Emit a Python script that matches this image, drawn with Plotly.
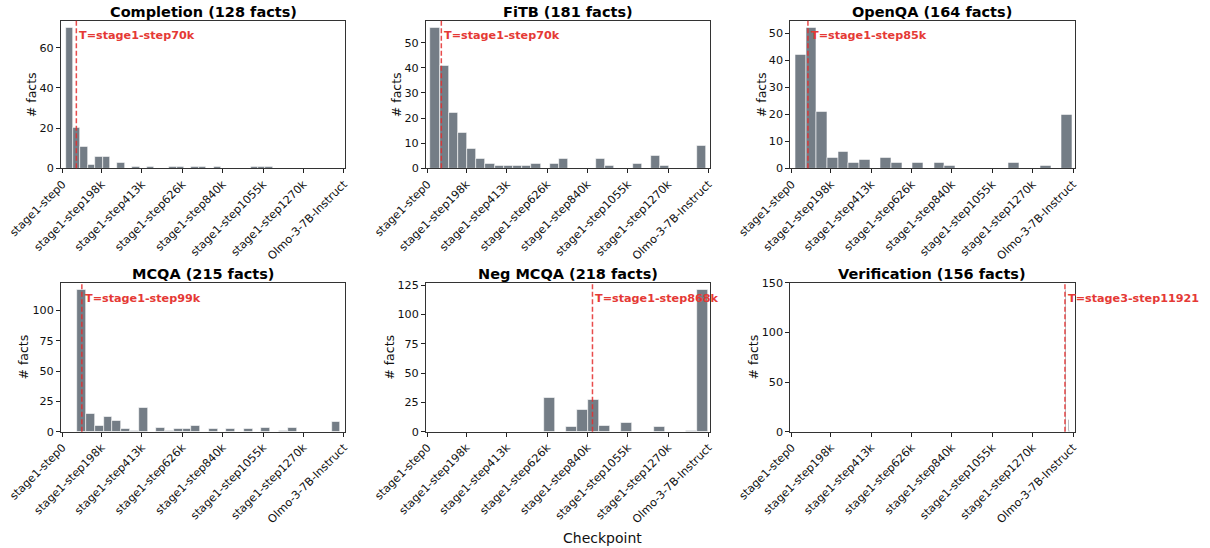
import plotly.graph_objects as go

W, H = 1210, 548

# ---- data ----
tick_idx = [0, 29, 59, 89, 119, 149, 179, 209]
tick_labels = ["stage1-step0", "stage1-step198k", "stage1-step413k", "stage1-step626k",
               "stage1-step840k", "stage1-step1055k", "stage1-step1270k", "Olmo-3-7B-Instruct"]

titles = ["Completion (128 facts)", "FiTB (181 facts)", "OpenQA (164 facts)",
          "MCQA (215 facts)", "Neg MCQA (218 facts)", "Verification (156 facts)"]

threshold_idx = [10.3, 10.3, 12.0, 14.4, 122.7, 203.0]
threshold_labels = ["T=stage1-step70k", "T=stage1-step70k", "T=stage1-step85k",
                    "T=stage1-step99k", "T=stage1-step868k", "T=stage3-step11921"]

# histogram bins: start index and bin width (checkpoint-index units)
bin_start = [2.25, 2.1, 2.6, 11.1, 87.0, 203.2]
bin_width = [5.5, 6.84, 7.92, 6.51, 8.12, 0.8]

counts_completion = [70, 20, 11, 2, 6, 6, 0, 3, 0, 1, 0, 1, 0, 0, 1, 1, 0, 1, 1, 0,
                     1, 0, 0, 0, 0, 1, 1, 1]
counts_fitb = [56, 41, 22, 14, 8, 4, 2, 1, 1, 1, 1, 2, 0, 2, 4, 0, 0, 0, 4, 1,
               0, 0, 2, 0, 5, 1, 0, 0, 0, 9]
counts_openqa = [42, 52, 21, 4, 6, 2, 3, 0, 4, 2, 0, 2, 0, 2, 1, 0, 0, 0, 0, 0,
                 2, 0, 0, 1, 0, 20]
counts_mcqa = [117, 15, 5, 12, 9, 2, 1, 20, 0, 3, 1, 2, 2, 5, 0, 2, 0, 2, 0, 2,
               0, 3, 0, 1, 3, 0, 0, 0, 0, 8]
counts_negmcqa = [29, 0, 4, 19, 27, 5, 0, 8, 0, 0, 4, 0, 0, 1, 121]
counts_verification = [143, 0, 0, 12, 1]

all_counts = [counts_completion, counts_fitb, counts_openqa,
              counts_mcqa, counts_negmcqa, counts_verification]

ytick_step = [20, 10, 10, 25, 25, 50]
ymax = [73.5, 58.8, 54.6, 122.85, 127.05, 150.15]

# ---- layout geometry (pixels) ----
cols_px = [(61, 345.3), (426, 710), (790.3, 1074.5)]
rows_px = [(20.7, 168.3), (282.8, 431.7)]
ylab_x = [31.7, 396.7, 761.7, 23.3, 389.5, 753.3]

FONT = "DejaVu Sans"
BAR = "rgb(116,125,134)"
RED_LINE = "rgba(228,45,45,0.85)"
RED_TXT = "#e53935"

fig = go.Figure()
annotations = []
shapes = []

for i in range(6):
    r, c = divmod(i, 3)
    ax = "" if i == 0 else str(i + 1)
    counts = all_counts[i]
    xs = [bin_start[i] + (k + 0.5) * bin_width[i] for k in range(len(counts))]
    fig.add_trace(go.Bar(
        x=xs, y=counts, width=bin_width[i],
        marker=dict(color=BAR, line=dict(color="white", width=0.6)),
        xaxis="x" + ax, yaxis="y" + ax, showlegend=False, hoverinfo="skip"))

    x0, x1 = cols_px[c]
    top, bot = rows_px[r]
    xdom = [x0 / W, x1 / W]
    ydom = [1 - bot / H, 1 - top / H]
    ticks_y = list(range(0, int(ymax[i]) + 1, ytick_step[i]))
    fig.update_layout(**{
        "xaxis" + ax: dict(domain=xdom, anchor="y" + ax, range=[-1.1, 210.1],
                           automargin=False,
                           tickmode="array", tickvals=tick_idx, ticktext=tick_labels,
                           tickangle=-45, ticks="outside", ticklen=4, tickwidth=1,
                           tickcolor="#222", showline=True, mirror=True,
                           linecolor="#333", linewidth=1, showgrid=False,
                           zeroline=False, tickfont=dict(family=FONT, size=11.2, color="#111")),
        "yaxis" + ax: dict(domain=ydom, anchor="x" + ax, range=[0, ymax[i]],
                           automargin=False,
                           tickmode="array", tickvals=ticks_y,
                           ticks="outside", ticklen=4, tickwidth=1, tickcolor="#222",
                           showline=True, mirror=True, linecolor="#333", linewidth=1,
                           showgrid=False, zeroline=False,
                           tickfont=dict(family=FONT, size=11.2, color="#111")),
    })

    # title
    annotations.append(dict(text="<b>" + titles[i] + "</b>", xref="paper", yref="paper",
                            x=(x0 + x1) / 2 / W, y=1 - (top + 1) / H,
                            xanchor="center", yanchor="bottom", showarrow=False,
                            font=dict(family=FONT, size=14.5, color="#000")))
    # y label
    annotations.append(dict(text="# facts", xref="paper", yref="paper",
                            x=ylab_x[i] / W, y=1 - (top + bot) / 2 / H, textangle=-90,
                            xanchor="center", yanchor="middle", showarrow=False,
                            font=dict(family=FONT, size=12.5, color="#111")))
    # threshold line + label
    shapes.append(dict(type="line", xref="x" + ax, yref="y" + ax + " domain",
                       x0=threshold_idx[i], x1=threshold_idx[i], y0=0, y1=1,
                       line=dict(color=RED_LINE, width=1.5, dash="5px,2.5px")))
    annotations.append(dict(text="<b>" + threshold_labels[i] + "</b>", xref="x" + ax,
                            yref="y" + ax + " domain", x=threshold_idx[i], y=0.955,
                            xanchor="left", yanchor="top", xshift=1, showarrow=False,
                            font=dict(family=FONT, size=11.2, color=RED_TXT)))

annotations.append(dict(text="Checkpoint", xref="paper", yref="paper",
                        x=602 / W, y=1 - 538 / H, xanchor="center", yanchor="middle",
                        showarrow=False, font=dict(family=FONT, size=14, color="#111")))

fig.update_layout(width=W, height=H, margin=dict(l=0, r=0, t=0, b=0, autoexpand=False),
                  paper_bgcolor="white", plot_bgcolor="white",
                  annotations=annotations, shapes=shapes, bargap=0,
                  font=dict(family=FONT))

fig.write_html("out.html", config={"displayModeBar": False},
               post_script="document.body.style.margin='0';document.body.style.overflow='hidden';")
